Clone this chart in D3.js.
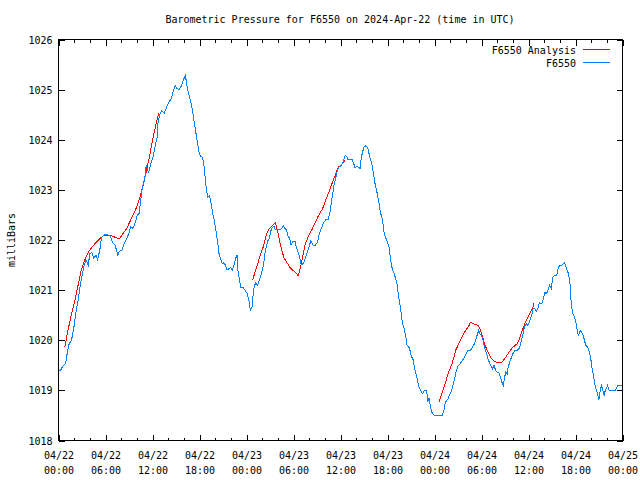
<!DOCTYPE html>
<html>
<head>
<meta charset="utf-8">
<script src="https://cdn.jsdelivr.net/npm/d3@7"></script>
<style>
  html, body { margin: 0; padding: 0; background: #fff; }
  svg { display: block; }
  text { font-family: "DejaVu Sans Mono", "Liberation Mono", monospace; font-size: 10px; fill: #000; }
</style>
</head>
<body>
<svg id="chart" width="640" height="480"></svg>
<script>
// ---------------- DATA ----------------
const chartTitle = "Barometric Pressure for F6550 on 2024-Apr-22 (time in UTC)";
const yLabel = "milliBars";
const seriesNames = ["F6550 Analysis", "F6550"];
const startTime = Date.UTC(2024, 3, 22, 0, 0);
const endTime = Date.UTC(2024, 3, 25, 0, 0);
const yTicks = [1018, 1019, 1020, 1021, 1022, 1023, 1024, 1025, 1026];

// F6550 observations: hours after 2024-04-22 00:00 UTC and pressure (mb)
const obsHours = [
  0.0, 0.26, 0.6, 0.9, 1.1, 1.36, 1.66, 1.96, 2.2, 2.5, 2.8, 3.06, 3.28, 3.5, 3.8, 4.0, 4.25, 4.5, 4.77, 5.0,
  5.3, 5.5, 5.8, 6.3, 6.6, 6.9, 7.2, 7.4, 7.57, 7.8, 8.1, 8.4, 8.7, 9.0, 9.2, 9.5, 9.8, 10.05, 10.3, 10.5,
  10.7, 11.0, 11.2, 11.5, 11.75, 12.1, 12.3, 12.6, 12.7, 12.9, 13.2, 13.5, 13.8, 14.1, 14.4, 14.6, 14.9, 15.15, 15.4, 15.7,
  15.9, 16.2, 16.4, 16.6, 16.85, 17.1, 17.3, 17.5, 17.7, 17.9, 18.1, 18.4, 18.6, 18.85, 19.06, 19.3, 19.5, 19.7, 19.9, 20.1,
  20.3, 20.5, 20.7, 20.9, 21.1, 21.3, 21.5, 21.8, 22.0, 22.2, 22.4, 22.6, 22.8, 22.9, 23.1, 23.3, 23.6, 23.8, 24.1, 24.3,
  24.5, 24.7, 24.9, 25.15, 25.4, 25.65, 25.9, 26.2, 26.35, 26.5, 26.7, 26.9, 27.1, 27.3, 27.5, 27.7, 27.95, 28.2, 28.5, 28.7,
  28.9, 29.1, 29.3, 29.5, 29.7, 29.9, 30.2, 30.35, 30.55, 30.8, 30.9, 31.1, 31.3, 31.5, 31.8, 32.05, 32.2, 32.5, 32.8, 33.05,
  33.3, 33.6, 33.8, 34.1, 34.4, 34.7, 34.85, 35.0, 35.2, 35.4, 35.6, 35.8, 36.05, 36.3, 36.6, 36.8, 36.9, 37.3, 37.5, 37.7,
  37.85, 38.1, 38.3, 38.5, 38.6, 38.8, 39.0, 39.2, 39.5, 39.7, 40.0, 40.2, 40.4, 40.7, 40.9, 41.1, 41.4, 41.5, 41.75, 41.96,
  42.2, 42.4, 42.6, 42.8, 43.0, 43.2, 43.45, 43.7, 43.9, 44.1, 44.3, 44.5, 44.8, 45.0, 45.3, 45.45, 45.7, 45.96, 46.2, 46.5,
  46.7, 47.0, 47.15, 47.3, 47.5, 47.7, 48.0, 48.7, 49.0, 49.2, 49.4, 49.7, 49.9, 50.2, 50.4, 50.6, 50.8, 51.0, 51.3, 51.55,
  51.8, 52.1, 52.3, 52.6, 52.8, 53.1, 53.3, 53.5, 53.65, 53.8, 54.0, 54.2, 54.4, 54.5, 54.7, 54.9, 55.15, 55.4, 55.6, 55.8,
  56.0, 56.2, 56.4, 56.6, 56.8, 56.9, 57.1, 57.3, 57.4, 57.6, 57.8, 58.0, 58.3, 58.6, 58.85, 59.1, 59.3, 59.45, 59.7, 59.9,
  60.1, 60.4, 60.6, 60.8, 61.0, 61.2, 61.4, 61.7, 61.9, 62.1, 62.3, 62.5, 62.7, 62.9, 63.1, 63.35, 63.6, 63.8, 64.0, 64.3,
  64.55, 64.7, 64.9, 65.1, 65.3, 65.4, 65.6, 65.9, 66.1, 66.25, 66.4, 66.6, 66.9, 67.1, 67.3, 67.55, 67.8, 67.95, 68.1, 68.3,
  68.45, 68.6, 68.8, 68.97, 69.15, 69.3, 69.5, 69.65, 69.8, 70.1, 70.3, 70.7, 71.1, 71.4, 71.7, 71.9
];
const obsPressure = [
  1019.38, 1019.40, 1019.50, 1019.53, 1019.73, 1019.93, 1020.00, 1020.25, 1020.53, 1020.80, 1021.13, 1021.33, 1021.50, 1021.60, 1021.50, 1021.73, 1021.75, 1021.63, 1021.70, 1021.60,
  1021.83, 1022.05, 1022.10, 1022.10, 1022.08, 1021.95, 1021.90, 1021.80, 1021.70, 1021.78, 1021.80, 1021.93, 1022.03, 1022.13, 1022.27, 1022.23, 1022.35, 1022.50, 1022.53, 1022.80,
  1023.05, 1023.20, 1023.50, 1023.33, 1023.50, 1023.67, 1023.85, 1024.05, 1024.33, 1024.50, 1024.58, 1024.53, 1024.65, 1024.75, 1024.82, 1024.95, 1025.08, 1025.02, 1025.00, 1025.08,
  1025.18, 1025.28, 1025.08, 1024.92, 1024.78, 1024.58, 1024.38, 1024.18, 1023.98, 1023.78, 1023.68, 1023.65, 1023.45, 1023.05, 1022.85, 1022.88, 1022.72, 1022.52, 1022.38, 1022.18,
  1021.98, 1021.72, 1021.62, 1021.52, 1021.55, 1021.50, 1021.40, 1021.43, 1021.45, 1021.40, 1021.50, 1021.63, 1021.70, 1021.40, 1021.20, 1021.05, 1021.05, 1021.00, 1020.93, 1020.80,
  1020.60, 1020.65, 1021.00, 1021.15, 1021.10, 1021.20, 1021.33, 1021.53, 1021.73, 1021.85, 1021.98, 1022.03, 1022.18, 1022.25, 1022.28, 1022.20, 1022.20, 1022.20, 1022.23, 1022.28,
  1022.23, 1022.20, 1022.08, 1022.03, 1021.90, 1021.98, 1021.98, 1021.85, 1021.78, 1021.65, 1021.53, 1021.50, 1021.55, 1021.63, 1021.78, 1021.90, 1021.98, 1021.90, 1021.90, 1021.95,
  1022.13, 1022.25, 1022.33, 1022.40, 1022.40, 1022.58, 1022.78, 1022.92, 1023.12, 1023.25, 1023.38, 1023.45, 1023.48, 1023.55, 1023.68, 1023.67, 1023.60, 1023.60, 1023.60, 1023.52,
  1023.43, 1023.48, 1023.45, 1023.43, 1023.58, 1023.75, 1023.85, 1023.88, 1023.83, 1023.68, 1023.52, 1023.33, 1023.13, 1022.92, 1022.75, 1022.55, 1022.38, 1022.18, 1022.05, 1021.98,
  1021.85, 1021.60, 1021.43, 1021.35, 1021.25, 1021.13, 1020.85, 1020.60, 1020.35, 1020.25, 1020.10, 1019.90, 1019.85, 1019.70, 1019.60, 1019.43, 1019.30, 1019.10, 1019.00, 1018.93,
  1019.00, 1019.00, 1018.77, 1018.85, 1018.65, 1018.55, 1018.50, 1018.50, 1018.50, 1018.60, 1018.77, 1018.82, 1018.90, 1019.00, 1019.13, 1019.25, 1019.40, 1019.48, 1019.53, 1019.60,
  1019.65, 1019.75, 1019.80, 1019.80, 1019.85, 1019.93, 1020.03, 1020.13, 1020.20, 1020.13, 1020.10, 1020.00, 1019.85, 1019.80, 1019.70, 1019.60, 1019.50, 1019.43, 1019.50, 1019.40,
  1019.36, 1019.36, 1019.28, 1019.16, 1019.10, 1019.23, 1019.36, 1019.33, 1019.46, 1019.56, 1019.65, 1019.73, 1019.80, 1019.80, 1019.85, 1019.99, 1020.13, 1020.25, 1020.33, 1020.30,
  1020.35, 1020.50, 1020.63, 1020.63, 1020.57, 1020.63, 1020.75, 1020.73, 1020.83, 1020.95, 1020.93, 1021.00, 1021.10, 1021.03, 1021.25, 1021.30, 1021.30, 1021.45, 1021.50, 1021.50,
  1021.55, 1021.50, 1021.40, 1021.33, 1021.13, 1020.85, 1020.55, 1020.45, 1020.33, 1020.15, 1020.10, 1020.20, 1020.13, 1020.03, 1019.90, 1019.86, 1019.75, 1019.63, 1019.46, 1019.30,
  1019.13, 1019.03, 1018.95, 1018.80, 1019.00, 1019.10, 1019.00, 1018.90, 1019.00, 1019.10, 1019.00, 1019.00, 1019.00, 1019.10, 1019.10, 1019.10
];

// F6550 Analysis: three 12-hour runs (null marks a gap)
const anaHours = [
  0.8, 1.2, 1.66, 2.1, 2.5, 2.9, 3.36, 3.7, 4.0, 4.4, 4.85, 5.3, 5.8, 6.55, 7.0, 7.4, 7.8, 8.25, 8.7, 9.1,
  9.5, 9.96, 10.4, 10.8, 11.15, 11.6, 12.0, 12.4, 12.8,
  18.0,
  24.8, 25.15, 25.5, 25.8, 26.2, 26.5, 26.85, 27.3, 27.7, 27.96, 28.2, 28.5, 28.8, 29.2, 29.6, 30.2, 30.6, 30.9, 31.2, 31.5,
  31.95, 32.4, 32.8, 33.2, 33.7, 34.1, 34.5, 34.9, 35.4, 35.7, 36.1, 36.6,
  42.0,
  48.6, 49.0, 49.4, 49.8, 50.3, 50.7, 51.1, 51.5, 51.95, 52.4, 52.6, 53.0, 53.6, 53.8, 54.1, 54.4, 54.7, 55.15, 55.6, 56.0,
  56.6, 57.1, 57.5, 58.0, 58.55, 58.85, 59.2, 59.6, 60.0, 60.5, 60.7
];
const anaPressure = [
  1019.86, 1020.19, 1020.53, 1020.80, 1021.10, 1021.40, 1021.60, 1021.73, 1021.80, 1021.88, 1021.96, 1022.03, 1022.09, 1022.09, 1022.07, 1022.04, 1022.03, 1022.13, 1022.23, 1022.36,
  1022.49, 1022.65, 1022.85, 1023.09, 1023.33, 1023.65, 1023.99, 1024.28, 1024.53,
  null,
  1021.21, 1021.39, 1021.56, 1021.72, 1021.89, 1022.09, 1022.22, 1022.29, 1022.34, 1022.19, 1021.99, 1021.79, 1021.64, 1021.54, 1021.44, 1021.36, 1021.29, 1021.46, 1021.69, 1021.92,
  1022.09, 1022.22, 1022.36, 1022.49, 1022.62, 1022.79, 1022.95, 1023.12, 1023.32, 1023.45, 1023.50, 1023.59,
  null,
  1018.78, 1018.96, 1019.16, 1019.36, 1019.56, 1019.80, 1019.93, 1020.06, 1020.19, 1020.29, 1020.36, 1020.33, 1020.29, 1020.23, 1020.09, 1019.93, 1019.80, 1019.66, 1019.58, 1019.56,
  1019.56, 1019.66, 1019.76, 1019.86, 1019.93, 1020.03, 1020.19, 1020.36, 1020.49, 1020.63, 1020.74
];

// ---------------- CHART ----------------
const svg = d3.select("#chart");
const L = 58.5, R = 622.5, T = 39.5, B = 440.5;
const colors = { analysis: "#ff0000", obs: "#0080ff" };

const x = d3.scaleUtc().domain([new Date(startTime), new Date(endTime)]).range([L, R]);
const y = d3.scaleLinear().domain([1018, 1026]).range([B, T]);

const toDate = h => new Date(startTime + h * 3600e3);
const obs = obsHours.map((h, i) => ({ t: toDate(h), v: obsPressure[i] }));
const ana = anaHours.map((h, i) => ({ t: toDate(h), v: anaPressure[i] }));

const line = d3.line().defined(d => d.v != null).x(d => x(d.t)).y(d => y(d.v));

// axes (ticks pointing inward)
const majorX = d3.utcHour.every(6), minorX = d3.utcHour.every(2);
function styleAxis(g) {
  g.select(".domain").remove();
  g.selectAll("line").attr("stroke", "#000").attr("shape-rendering", "crispEdges");
}
svg.append("g").attr("transform", `translate(0,${B})`)
  .call(d3.axisBottom(x).ticks(minorX).tickSize(-3).tickFormat(""))
  .call(styleAxis);
svg.append("g").attr("transform", `translate(0,${T})`)
  .call(d3.axisTop(x).ticks(minorX).tickSize(-3).tickFormat(""))
  .call(styleAxis);
svg.append("g").attr("transform", `translate(0,${T})`)
  .call(d3.axisTop(x).ticks(majorX).tickSize(-6).tickFormat(""))
  .call(styleAxis);
const xb = svg.append("g").attr("transform", `translate(0,${B})`)
  .call(d3.axisBottom(x).ticks(majorX).tickSize(-6).tickPadding(0).tickFormat(d3.utcFormat("%m/%d|%H:%M")))
  .call(styleAxis);
xb.selectAll("text").each(function(d) {
  const parts = d3.utcFormat("%m/%d|%H:%M")(d).split("|");
  const t = d3.select(this).text(null).attr("y", null).attr("dy", null);
  t.append("tspan").attr("x", 0).attr("y", 18).text(parts[0]);
  t.append("tspan").attr("x", 0).attr("y", 33).text(parts[1]);
});
xb.attr("font-family", null).attr("font-size", null);

const yl = svg.append("g").attr("transform", `translate(${L},0)`)
  .call(d3.axisLeft(y).tickValues(yTicks).tickSize(-6).tickPadding(6).tickFormat(d3.format("d")))
  .call(styleAxis);
yl.attr("font-family", null).attr("font-size", null);
yl.selectAll("text").attr("x", -6).attr("dy", "0.35em");
svg.append("g").attr("transform", `translate(${R},0)`)
  .call(d3.axisRight(y).tickValues(yTicks).tickSize(-6).tickFormat(""))
  .call(styleAxis);

// frame
svg.append("rect").attr("x", L).attr("y", T).attr("width", R - L).attr("height", B - T)
  .attr("fill", "none").attr("stroke", "#000").attr("shape-rendering", "crispEdges");

// series
svg.append("path").datum(ana).attr("d", line)
  .attr("fill", "none").attr("stroke", colors.analysis).attr("stroke-width", 1)
  .attr("shape-rendering", "crispEdges");
svg.append("path").datum(obs).attr("d", line)
  .attr("fill", "none").attr("stroke", colors.obs).attr("stroke-width", 1)
  .attr("shape-rendering", "crispEdges");

// title & axis label
svg.append("text").attr("x", 340).attr("y", 23).attr("text-anchor", "middle").text(chartTitle);
svg.append("text").attr("transform", "translate(15,240) rotate(-90)").attr("text-anchor", "middle").text(yLabel);

// legend
const legend = svg.append("g");
[colors.analysis, colors.obs].forEach((c, i) => {
  const ly = 49 + i * 13;
  legend.append("text").attr("x", 576).attr("y", ly + 5).attr("text-anchor", "end").text(seriesNames[i]);
  legend.append("line").attr("x1", 583).attr("x2", 610).attr("y1", ly + 0.5).attr("y2", ly + 0.5)
    .attr("stroke", c).attr("stroke-width", 1).attr("shape-rendering", "crispEdges");
});
</script>
</body>
</html>
